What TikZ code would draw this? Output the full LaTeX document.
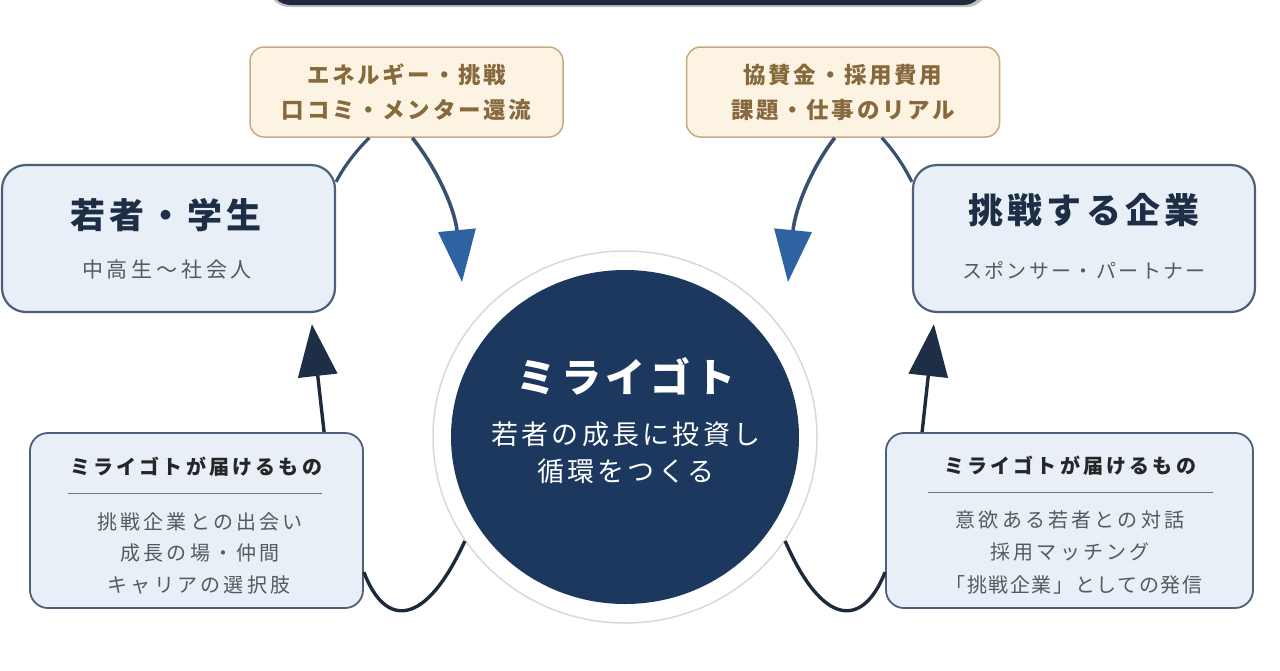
\documentclass[tikz,border=0pt]{standalone}
\usepackage{fontspec}
\setmainfont{Noto Sans CJK JP}
\newfontfamily\jpA{Noto Sans CJK JP}[LetterSpace=12]
\newfontfamily\jpB{Noto Sans CJK JP}[LetterSpace=18]
\newfontfamily\jpC{Noto Sans CJK JP}[LetterSpace=16]
\newfontfamily\jpD{Noto Sans CJK JP}[LetterSpace=8]
\usetikzlibrary{arrows.meta,shapes.geometric,calc}
\definecolor{navy}{HTML}{1C385E}
\definecolor{topbar}{HTML}{1E2A3C}
\definecolor{boxfill}{HTML}{E9EFF7}
\definecolor{boxline}{HTML}{4E6079}
\definecolor{ofill}{HTML}{FDF3E3}
\definecolor{oline}{HTML}{C6AB82}
\definecolor{otext}{HTML}{86693C}
\definecolor{ttext}{HTML}{1F2E47}
\definecolor{stext}{HTML}{555A60}
\definecolor{headblue}{HTML}{2F62A0}
\definecolor{slate}{HTML}{3A5070}
\definecolor{darkline}{HTML}{1E2A3C}
\definecolor{ringline}{HTML}{D6D9DD}
\begin{document}
\begin{tikzpicture}[x=1pt,y=-1pt,
  obox/.style={draw=oline,fill=ofill,line width=1.5pt,rounded corners=14pt,inner sep=0pt,
    minimum width=313pt,minimum height=90pt,align=center,text=otext,
    font=\jpA\fontsize{22.5}{35}\selectfont\bfseries},
  bbox/.style={draw=boxline,fill=boxfill,line width=2.2pt,rounded corners=24pt,inner sep=0pt},
  dbox/.style={draw=boxline,fill=boxfill,line width=1.8pt,rounded corners=18pt,inner sep=0pt},
  bigtitle/.style={text=ttext,font=\jpA\fontsize{35}{40}\selectfont\bfseries,inner sep=0pt},
  subtitle/.style={text=stext,font=\jpB\fontsize{21}{24}\selectfont,inner sep=0pt},
  subtitleB/.style={text=stext,font=\jpA\fontsize{20}{24}\selectfont,inner sep=0pt},
  dtitle/.style={text=black!85,font=\jpC\fontsize{20}{24}\selectfont\bfseries,inner sep=0pt},
  ditem/.style={text=stext,font=\jpC\fontsize{20}{24}\selectfont,inner sep=0pt},
  ditemB/.style={text=stext,font=\jpD\fontsize{20}{24}\selectfont,inner sep=0pt},
  ctitle/.style={text=white,font=\jpA\fontsize{40}{44}\selectfont\bfseries,inner sep=0pt},
  cline/.style={text=white,font=\jpA\fontsize{27}{30}\selectfont,inner sep=0pt},
  bluearrow/.style={draw=slate,line width=3.6pt,-{Triangle[length=52pt,width=37pt,color=headblue]}},
  navyarrow/.style={draw=darkline,line width=3.4pt,-{Triangle[length=52pt,width=39pt,color=ttext]}},
  plainline/.style={draw=slate,line width=3.2pt},
  loopline/.style={draw=darkline,line width=3.4pt},
]
\useasboundingbox (0,0) rectangle (1280,670);
\clip (0,0) rectangle (1280,670);
\fill[white] (0,0) rectangle (1280,670);

% top bar (cut off)
\fill[black!25,rounded corners=20pt] (269,-40) rectangle (987,7);
\node[fill=topbar,rounded corners=20pt,minimum width=713pt,minimum height=50pt,inner sep=0pt] (topbar) at (627,-20) {};

% orange boxes
\node[obox] (ob1) at (406.5,92) {エネルギー・挑戦\\口コミ・メンター還流};
\node[obox] (ob2) at (843,92) {協賛金・採用費用\\課題・仕事のリアル};

% top boxes
\node[bbox,minimum width=333pt,minimum height=147pt] (yb1) at (168.5,238.5) {};
\node[bigtitle] (yb1t) at (166,215) {若者・学生};
\node[subtitle] (yb1s) at (167,270) {中高生〜社会人};

\node[bbox,minimum width=342pt,minimum height=147pt] (yb2) at (1084,238.5) {};
\node[bigtitle] (yb2t) at (1084,210) {挑戦する企業};
\node[subtitleB] (yb2s) at (1084,270) {スポンサー・パートナー};

% bottom boxes
\node[dbox,minimum width=333pt,minimum height=175pt] (db1) at (196.5,520.5) {};
\node[dtitle] (db1t) at (196,467) {ミライゴトが届けるもの};
\draw[black!55,line width=1pt] (68,493) -- (322,493);
\node[ditem] (db1a) at (200,522) {挑戦企業との出会い};
\node[ditem] (db1b) at (200,553) {成長の場・仲間};
\node[ditem] (db1c) at (199,585) {キャリアの選択肢};

\node[dbox,minimum width=367pt,minimum height=175pt] (db2) at (1069.5,520.5) {};
\node[dtitle] (db2t) at (1070,466) {ミライゴトが届けるもの};
\draw[black!55,line width=1pt] (928,492) -- (1213,492);
\node[ditem] (db2a) at (1070,520) {意欲ある若者との対話};
\node[ditem] (db2b) at (1070,552) {採用マッチング};
\node[ditemB] (db2c) at (1074,585) {「挑戦企業」としての発信};

% center circle
\node[ellipse,draw=ringline,line width=1.5pt,fill=white,minimum width=384pt,minimum height=372pt,inner sep=0pt] (outer) at (625,437) {};
\node[ellipse,fill=navy,minimum width=348pt,minimum height=334pt,inner sep=0pt] (inner) at (625,437) {};
\node[ctitle] (ct) at (626,376) {ミライゴト};
\node[cline] (c1) at (626,434) {若者の成長に投資し};
\node[cline] (c2) at (626,471) {循環をつくる};

% connectors
\coordinate (a1s) at ($(ob1.south west)+(163,0)$);
\coordinate (a1e) at (462,282);
\draw[bluearrow] (a1s) .. controls (438,170) and (455,210) .. (a1e);
\coordinate (a2s) at ($(ob2.south west)+(149,0)$);
\coordinate (a2e) at (788,282);
\draw[bluearrow] (a2s) .. controls (810,170) and (795,210) .. (a2e);

\draw[plainline] ($(ob1.south west)+(120,0)$) .. controls (355,152) and (343,168) .. ($(yb1.north east)+(0,18)$);
\draw[plainline] ($(ob2.south west)+(196,0)$) .. controls (895,152) and (905,168) .. ($(yb2.north west)+(0,18)$);

\coordinate (u1e) at ($(yb1.south west)+(311,11)$);
\draw[navyarrow] ($(db1.north west)+(295,0)$) -- (u1e);
\coordinate (u2e) at ($(yb2.south west)+(22,11)$);
\draw[navyarrow] ($(db2.north west)+(37,0)$) -- (u2e);

\draw[loopline] ($(db1.north east)+(0,140)$) .. controls (385,628) and (425,628) .. (outer.213);
\draw[loopline] (outer.327) .. controls (823,628) and (863,628) .. ($(db2.north west)+(0,140)$);
\end{tikzpicture}
\end{document}
